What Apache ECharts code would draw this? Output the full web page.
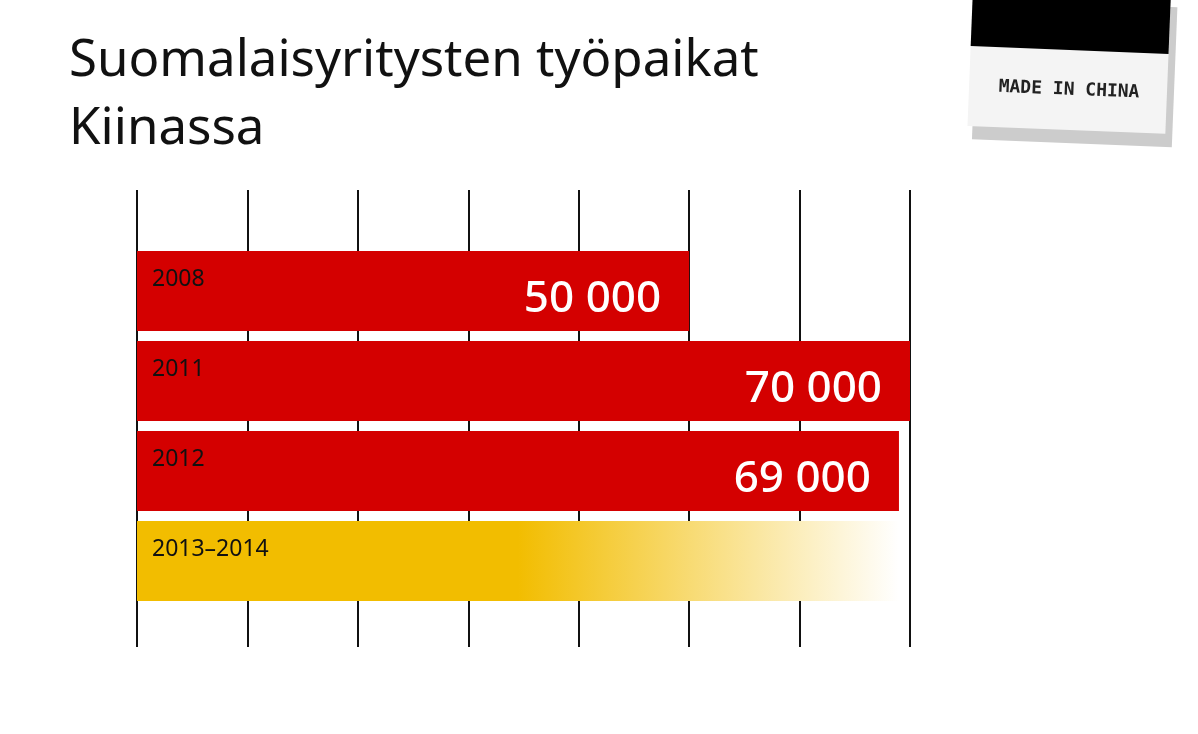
<!DOCTYPE html>
<html><head><meta charset="utf-8">
<script src="https://cdn.jsdelivr.net/npm/echarts@6/dist/echarts.min.js"></script>
<style>html,body{margin:0;background:#fff}#c{width:1198px;height:734px}</style>
</head><body><div id="c"></div>
<script>
var categories = ['2008', '2011', '2012', '2013–2014'];
var values = [50000, 70000, 69000, 69000];
var valueLabels = ['50 000', '70 000', '69 000', ''];
var xTicks = [0, 10000, 20000, 30000, 40000, 50000, 60000, 70000];

var chart = echarts.init(document.getElementById('c'));
var F = '"Noto Sans", sans-serif';
var data = values.map(function (v, i) {
  var d = { value: v, itemStyle: { color: '#d40000' } };
  if (i === 3) d.itemStyle.color = new echarts.graphic.LinearGradient(0, 0, 1, 0, [
    { offset: 0, color: '#f2bd00' }, { offset: 0.5, color: '#f2bd00' },
    { offset: 1, color: '#ffffff' }]);
  return d;
});
chart.setOption({
  animation: false,
  title: { text: 'Suomalaisyritysten työpaikat\nKiinassa', left: 64, top: 22,
    textStyle: { fontFamily: F, fontSize: 51, fontWeight: 'normal', color: '#111', lineHeight: 68 } },
  grid: [
    { left: 137, width: 773, top: 190, height: 457 },
    { left: 137, width: 773, top: 246, height: 360 }
  ],
  xAxis: [
    { gridIndex: 0, type: 'value', min: 0, max: xTicks[xTicks.length - 1], interval: 10000,
      axisLabel: { show: false }, axisLine: { show: false }, axisTick: { show: false },
      splitLine: { lineStyle: { color: '#111', width: 2 } } },
    { gridIndex: 1, type: 'value', min: 0, max: 70000, show: false }
  ],
  yAxis: [
    { gridIndex: 0, type: 'category', data: ['a'], show: false },
    { gridIndex: 1, type: 'category', data: categories, inverse: true, z: 10,
      axisLine: { show: false }, axisTick: { show: false },
      axisLabel: { inside: true, margin: 15, color: '#111', fontFamily: F, fontSize: 23,
        verticalAlign: 'bottom' } }
  ],
  series: [{
    type: 'bar', xAxisIndex: 1, yAxisIndex: 1, barWidth: 80, data: data,
    label: { show: true, position: 'insideRight', distance: 28, offset: [0, 8],
      formatter: function (p) { return valueLabels[p.dataIndex]; },
      color: '#fff', fontFamily: F, fontSize: 44, fontWeight: 500 }
  }],
  graphic: [{
    type: 'group', x: 1070, y: 65, rotation: -0.04,
    children: [
      { type: 'rect', shape: { x: -95, y: -62, width: 200, height: 140 }, style: { fill: '#ccc' } },
      { type: 'rect', shape: { x: -100, y: -70, width: 198, height: 135 }, style: { fill: '#f4f4f4' } },
      { type: 'rect', shape: { x: -100, y: -70, width: 198, height: 55 }, style: { fill: '#000' } },
      { type: 'text', x: 0, y: 25, style: { text: 'MADE IN CHINA', fontFamily: 'DejaVu Sans Mono', fontSize: 18,
        fontWeight: 'bold', fill: '#222', align: 'center', verticalAlign: 'middle' } }
    ]
  }]
});
</script></body></html>
